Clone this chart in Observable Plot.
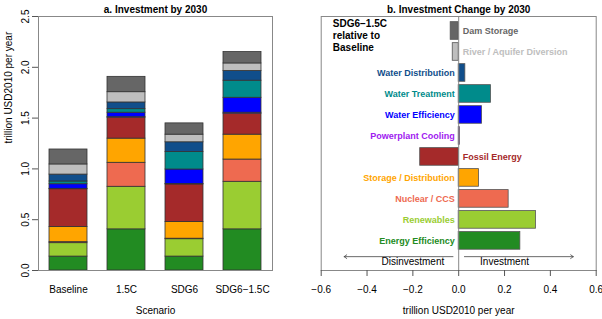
<!DOCTYPE html>
<html>
<head>
<meta charset="utf-8">
<script src="https://cdn.jsdelivr.net/npm/d3@7"></script>
<script src="https://cdn.jsdelivr.net/npm/@observablehq/plot@0.6"></script>
<style>
  html, body { margin: 0; padding: 0; background: white; }
  #wrap { display: flex; width: 602px; height: 319px; }
  #wrap svg { display: block; }
</style>
</head>
<body>
<div id="wrap"></div>
<script>
const scenarios = ["Baseline", "1.5C", "SDG6", "SDG6−1.5C"];
const components = [
  "Energy Efficiency", "Renewables", "Nuclear / CCS", "Storage / Distribution",
  "Fossil Energy", "Powerplant Cooling", "Water Efficiency", "Water Treatment",
  "Water Distribution", "River / Aquifer Diversion", "Dam Storage"
];
const colors = ["#228B22", "#9ACD32", "#EE6A50", "#FFA500", "#A52A2A", "#A020F0",
  "#0000FF", "#008B8B", "#104E8B", "#BEBEBE", "#666666"];

// investment by 2030 (trillion USD2010 / yr), per component in the order above
const baseline = [0.137, 0.132, 0.010, 0.149, 0.372, 0.004, 0.045, 0.027, 0.068, 0.100, 0.147];
const scen15C  = [0.405, 0.419, 0.236, 0.238, 0.206, 0.005, 0.044, 0.035, 0.066, 0.101, 0.151];
const sdg6     = [0.137, 0.171, 0.005, 0.164, 0.370, 0.005, 0.142, 0.173, 0.095, 0.075, 0.111];
const sdg615C  = [0.405, 0.468, 0.219, 0.245, 0.206, 0.010, 0.147, 0.168, 0.096, 0.074, 0.112];
// change SDG6-1.5C relative to Baseline
const change   = [0.269, 0.337, 0.218, 0.089, -0.168, 0.005, 0.102, 0.141, 0.029, -0.026, -0.035];

const yTicks = [0, 0.5, 1.0, 1.5, 2.0, 2.5];
const xTicks = [-0.6, -0.4, -0.2, 0, 0.2, 0.4, 0.6];

const investments = [baseline, scen15C, sdg6, sdg615C];
const long = [];
scenarios.forEach((s, j) => components.forEach((c, k) =>
  long.push({scenario: s, component: c, value: investments[j][k]})));

const rows = components.map((c, k) => ({component: c, change: change[k], row: components.length - 1 - k}));

const font = {fontFamily: "'Liberation Sans', Arial, sans-serif", fontSize: "10px", background: "white", color: "black"};
const fmt = d3.format(".1f");

const left = Plot.plot({
  width: 300, height: 319,
  marginLeft: 38, marginRight: 28, marginTop: 16, marginBottom: 49,
  style: font,
  x: {domain: scenarios, paddingInner: 0.339, paddingOuter: 0.153, label: null},
  y: {domain: [0, 2.5], label: null},
  color: {domain: components, range: colors},
  marks: [
    Plot.barY(long, {x: "scenario", y: "value", fill: "component", stroke: "#333", strokeWidth: 0.8}),
    Plot.frame({stroke: "#888"}),
    Plot.axisY({ticks: yTicks, tickFormat: fmt, tickSize: 6, tickRotate: -90, tickPadding: 4, label: null, stroke: "#555"}),
    Plot.axisX({tickSize: 0, tickPadding: 15, label: null}),
    Plot.text(["a. Investment by 2030"], {frameAnchor: "top", dy: -11, fontWeight: "bold"}),
    Plot.text(["Scenario"], {frameAnchor: "bottom", dy: 43}),
    Plot.text(["trillion USD2010 per year"], {frameAnchor: "left", dx: -30, rotate: -90})
  ]
});

const right = Plot.plot({
  width: 302, height: 319,
  marginLeft: 20.7, marginRight: 6.3, marginTop: 16, marginBottom: 49,
  style: font,
  x: {domain: [-0.6, 0.6], label: null},
  y: {domain: [11.41, -0.69], axis: null},
  color: {domain: components, range: colors},
  marks: [
    Plot.rectX(rows, {x1: 0, x2: "change", y1: d => d.row - 0.42, y2: d => d.row + 0.42,
      fill: "component", stroke: "#555", strokeWidth: 0.8}),
    Plot.ruleX([0], {stroke: "#888"}),
    Plot.frame({stroke: "#888"}),
    Plot.axisX({ticks: xTicks, tickFormat: fmt, tickSize: 6, tickPadding: 9, label: null, stroke: "#555"}),
    Plot.text(rows.filter(d => d.change >= 0), {x: 0, y: "row", text: "component", fill: "component",
      textAnchor: "end", dx: -4, fontWeight: "bold", fontSize: 9}),
    Plot.text(rows.filter(d => d.change < 0), {x: 0, y: "row", text: "component", fill: "component",
      textAnchor: "start", dx: 4, fontWeight: "bold", fontSize: 9}),
    Plot.arrow([{a: -0.025, b: -0.5}, {a: 0.025, b: 0.5}], {x1: "a", x2: "b", y1: 10.75, y2: 10.75,
      stroke: "#444", strokeWidth: 0.8, headLength: 6, headAngle: 70}),
    Plot.text([{x: -0.2, t: "Disinvestment"}, {x: 0.2, t: "Investment"}], {x: "x", y: 11.0, text: "t"}),
    Plot.text(["SDG6−1.5C\nrelative to\nBaseline"], {frameAnchor: "top-left", dx: 11.6, dy: 2,
      lineAnchor: "top", textAnchor: "start", fontWeight: "bold", lineHeight: 1.2}),
    Plot.text(["b. Investment Change by 2030"], {frameAnchor: "top", dy: -11, fontWeight: "bold"}),
    Plot.text(["trillion USD2010 per year"], {frameAnchor: "bottom", dy: 43})
  ]
});

const wrap = document.getElementById("wrap");
wrap.appendChild(left);
wrap.appendChild(right);
</script>
</body>
</html>
